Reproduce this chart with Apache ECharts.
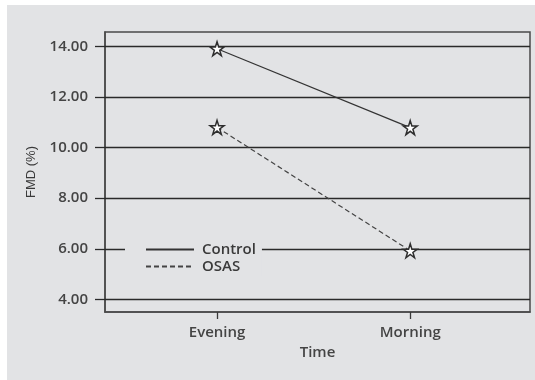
<!DOCTYPE html>
<html>
<head>
<meta charset="utf-8">
<style>
  html, body { margin: 0; padding: 0; background: #ffffff; }
  #chart { width: 535px; height: 380px; }
</style>
<script src="https://cdn.jsdelivr.net/npm/echarts@6/dist/echarts.min.js"></script>
</head>
<body>
<div id="chart"></div>
<script>
// Flow-mediated dilation by time of measurement
const categories = ['Evening', 'Morning'];
const controlValues = [13.91, 10.79];
const osasValues = [10.80, 5.92];
const yTicks = [4, 6, 8, 10, 12, 14];

const STAR = 'path://M50,2 L61.2,36.2 L97.6,36.2 L68.2,57.4 L79.4,91.6 L50,70.4 L20.6,91.6 L31.8,57.4 L2.4,36.2 L38.8,36.2 Z';
const FONT = '"Open Sans", "Noto Sans", sans-serif';
const toPoints = vals => vals.map((v, i) => [i + 1, v]);

const chart = echarts.init(document.getElementById('chart'), null, { renderer: 'canvas' });

chart.setOption({
  animation: false,
  backgroundColor: '#ffffff',
  graphic: [{
    type: 'rect',
    z: -10,
    silent: true,
    shape: { x: 7, y: 5, width: 528, height: 375 },
    style: { fill: '#e2e3e5' }
  }],
  grid: {
    left: 105, right: 5, top: 32, bottom: 68,
    show: true,
    borderColor: '#4a4a4a',
    borderWidth: 1.5,
    backgroundColor: 'transparent'
  },
  legend: {
    orient: 'vertical',
    left: 125,
    top: 240,
    padding: [2, 6, 2, 20],
    backgroundColor: '#e2e3e5',
    itemWidth: 48,
    itemHeight: 10,
    itemGap: 2,
    itemStyle: { opacity: 0 },
    textStyle: { fontFamily: FONT, fontSize: 15, fontWeight: 600, color: '#3a3a3a', padding: [0, 0, 0, 3] },
    data: ['Control', 'OSAS']
  },
  xAxis: {
    type: 'value',
    min: 0.42,
    max: 2.62,
    name: 'Time',
    nameLocation: 'middle',
    nameGap: 28,
    nameTextStyle: { fontFamily: FONT, fontSize: 15, fontWeight: 600, color: '#444444' },
    axisLine: { show: true, lineStyle: { color: '#4a4a4a', width: 1.5 } },
    axisTick: { show: true, customValues: [1, 2], length: 7, lineStyle: { color: '#3a3a3a', width: 1.3 } },
    axisLabel: {
      customValues: [1, 2],
      margin: 13,
      fontFamily: FONT, fontSize: 15, fontWeight: 600, color: '#444444',
      formatter: v => categories[Math.round(v) - 1] || ''
    },
    splitLine: { show: false }
  },
  yAxis: {
    type: 'value',
    min: 3.5,
    max: 14.57,
    name: 'FMD (%)',
    nameLocation: 'middle',
    nameGap: 67,
    nameTextStyle: { fontFamily: '"Liberation Sans Narrow", "Liberation Sans", sans-serif', fontSize: 13, color: '#3a3a3a' },
    axisLine: { show: true, lineStyle: { color: '#4a4a4a', width: 1.5 } },
    axisTick: { show: true, customValues: yTicks, length: 10, lineStyle: { color: '#2a2a2a', width: 1.3 } },
    axisLabel: {
      customValues: yTicks,
      margin: 17,
      fontFamily: FONT, fontSize: 15, fontWeight: 600, color: '#444444',
      formatter: v => Number(v).toFixed(2)
    },
    splitLine: { show: false }
  },
  series: [
    {
      name: 'Control',
      type: 'line',
      data: toPoints(controlValues),
      symbol: STAR,
      symbolSize: 14,
      itemStyle: { color: '#ffffff', borderColor: '#2e2e2e', borderWidth: 1.5 },
      lineStyle: { color: '#333333', width: 1.2, type: 'solid' },
      z: 5,
      markLine: {
        silent: true,
        symbol: 'none',
        label: { show: false },
        lineStyle: { color: '#2a2a2a', width: 1.3, type: 'solid' },
        data: yTicks.map(t => ({ yAxis: t })),
        z: 1
      }
    },
    {
      name: 'OSAS',
      type: 'line',
      data: toPoints(osasValues),
      symbol: STAR,
      symbolSize: 14,
      itemStyle: { color: '#ffffff', borderColor: '#2e2e2e', borderWidth: 1.5 },
      lineStyle: { color: '#444444', width: 1.2, type: [5, 3] },
      z: 5
    }
  ]
});
</script>
</body>
</html>
